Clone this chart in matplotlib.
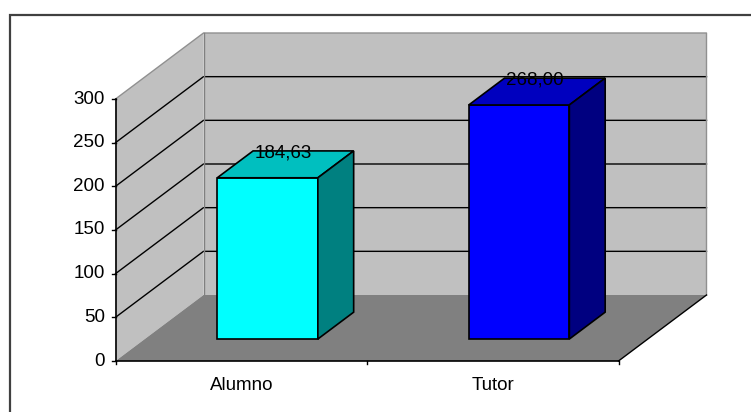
# Oblique 3D-style column chart drawn on a flat axes
import matplotlib
matplotlib.use("Agg")
import matplotlib.pyplot as plt
from matplotlib.patches import Polygon

categories = ["Alumno", "Tutor"]
values = [184.63, 268.00]
value_labels = ["184,63", "268,00"]
ticks = [0, 50, 100, 150, 200, 250, 300]

front_cols = ["#00FFFF", "#0000FF"]
top_cols = ["#00BFBF", "#0000BF"]
side_cols = ["#008080", "#000080"]

W, H = 751, 412
x0, y0 = 115.5, 361        # front corner of the plot, pixels
plot_w, plot_h = 503, 262  # front width and height, pixels
dx, dy = 88, 66            # depth offset of the back wall, pixels
bar_w = 0.4                # bar width in category units
bar_front, bar_back = 0.333, 0.74  # depth range of the bars
font_size = 13.5

fig = plt.figure(figsize=(W / 100, H / 100), dpi=100)
plt.rcParams["font.family"] = ["Liberation Sans", "DejaVu Sans"]
ax = fig.add_axes([0, 0, 1, 1])

# axes units: categories across, values up, so one pixel is a fixed step in each
sx = plot_w / len(categories)
sy = plot_h / max(ticks)
ax.set_xlim(-x0 / sx, (W - x0) / sx)
ax.set_ylim(-(H - y0) / sy, y0 / sy)
ax.axis("off")


def pt(x, v, depth=0.0):
    # project category position, value and depth to axes units
    return (x + depth * dx / sx, v + depth * dy / sy)


def face(pts, color, z, edge="none", lw=0):
    ax.add_patch(Polygon(pts, closed=True, facecolor=color, edgecolor=edge,
                         linewidth=lw, zorder=z, joinstyle="miter"))


n = len(categories)
top = max(ticks)

# walls and floor
face([pt(0, 0, 1), pt(n, 0, 1), pt(n, top, 1), pt(0, top, 1)], "#C0C0C0", 1)
face([pt(0, 0), pt(0, 0, 1), pt(0, top, 1), pt(0, top)], "#C0C0C0", 1)
face([pt(0, 0), pt(n, 0), pt(n, 0, 1), pt(0, 0, 1)], "#808080", 1)

# gridlines along side wall and back wall
for t in ticks[1:-1]:
    xs, ys = zip(pt(0, t), pt(0, t, 1), pt(n, t, 1))
    ax.plot(xs, ys, color="#000000", lw=1.0, zorder=2, solid_joinstyle="miter")

# wall outlines
xs, ys = zip(pt(0, top), pt(0, top, 1), pt(n, top, 1), pt(n, 0, 1))
ax.plot(xs, ys, color="#909090", lw=1.0, zorder=2)
xs, ys = zip(pt(0, 0, 1), pt(0, top, 1))
ax.plot(xs, ys, color="#808080", lw=1.0, zorder=2)
xs, ys = zip(pt(n, 0), pt(n, 0, 1))
ax.plot(xs, ys, color="#000000", lw=1.0, zorder=2)

# axis lines and tick marks
ax.plot([0, 0], [0, top], color="#000000", lw=1.2, zorder=3)
ax.plot([0, n], [0, 0], color="#000000", lw=1.2, zorder=3)
tick_len = 4 / sx
for t in ticks:
    ax.plot([-tick_len, 0], [t, t], color="#000000", lw=1.0, zorder=3)
    ax.text(-10.5 / sx, t, str(t), ha="right", va="center", fontsize=font_size,
            color="#000000", zorder=5)
for i in range(n + 1):
    ax.plot([i, i], [0, -3 / sy], color="#000000", lw=1.0, zorder=3)

# bars, set slightly left of the category centre
bar_shift = -3 / sx
for i, cat in enumerate(categories):
    c = i + 0.5
    l, r = c + bar_shift - bar_w / 2, c + bar_shift + bar_w / 2
    v = values[i]
    face([pt(l, 0, bar_front), pt(r, 0, bar_front), pt(r, v, bar_front), pt(l, v, bar_front)],
         front_cols[i], 4, "#000000", 1.2)
    face([pt(l, v, bar_front), pt(r, v, bar_front), pt(r, v, bar_back), pt(l, v, bar_back)],
         top_cols[i], 4, "#000000", 1.2)
    face([pt(r, 0, bar_front), pt(r, 0, bar_back), pt(r, v, bar_back), pt(r, v, bar_front)],
         side_cols[i], 4, "#000000", 1.2)
    ax.text(c, -24 / sy, cat, ha="center", va="center", fontsize=font_size,
            color="#000000", zorder=5)
    # value label sits on the rear edge of the top face
    lx = pt(c, v, 0.477)[0]
    ly = pt(c, v, 0.71)[1]
    ax.text(lx, ly, value_labels[i], ha="center", va="center", fontsize=font_size,
            color="#000000", zorder=5)

# outer frame, open on the right and at the bottom
fx, fy = 9.5, 15
ax.plot([(fx - x0) / sx, (fx - x0) / sx, (W - x0) / sx],
        [-(H - y0) / sy, (y0 - fy) / sy, (y0 - fy) / sy],
        color="#404040", lw=1.6, zorder=6, solid_joinstyle="miter")

fig.savefig("out.png", dpi=100)
